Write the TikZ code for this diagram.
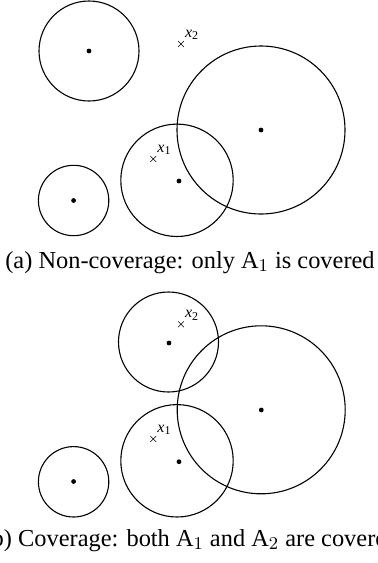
\documentclass[tikz,border=0pt]{standalone}
\usepackage{fontspec}
\setmainfont{Liberation Serif}
\usetikzlibrary{shapes.misc,positioning}

\begin{document}
\begin{tikzpicture}[
  x=0.5pt, y=-0.5pt,
  sensor/.style={circle, fill, inner sep=0pt, minimum size=2.4pt},
  disc/.style={draw, line width=0.55pt},
  tgt/.style={cross out, draw, line width=0.3pt, inner sep=0pt, minimum size=2.6pt},
  tlabel/.style={anchor=south west, inner sep=0.4pt, font=\footnotesize},
  capt/.style={anchor=base, inner sep=0pt, font=\fontsize{12.2}{14}\selectfont}
]
\useasboundingbox (0,0) rectangle (378,563);

% (a) non-coverage
\node[sensor] (a1) at (89,51) {};
\node[sensor] (a2) at (261,130) {};
\node[sensor] (a3) at (179,181) {};
\node[sensor] (a4) at (73.6,200.5) {};
\draw[disc] (89,51) circle[radius=25pt];
\draw[disc] (261,130) circle[radius=42pt];
\draw[disc] (177,180.3) circle[radius=28.1pt];
\draw[disc] (73.6,200.5) circle[radius=17.6pt];
\node[tgt] (ax2) at (181,44) {};
\node[tlabel] (ax2l) at (ax2.north east) {\textit{x}\textsubscript{2}};
\node[tgt] (ax1) at (153.3,159) {};
\node[tlabel] (ax1l) at (ax1.north east) {\textit{x}\textsubscript{1}};
\node[capt] (capa) at (190,268) {(a) Non-coverage: only $\mathrm{A}_1$ is covered};

% (b) coverage
\node[sensor] (b1) at (169,343) {};
\node[sensor] (b2) at (261.3,410) {};
\node[sensor] (b3) at (179,461.7) {};
\node[sensor] (b4) at (73.6,481.5) {};
\draw[disc] (168.5,342) circle[radius=25pt];
\draw[disc] (261.2,409.8) circle[radius=42pt];
\draw[disc] (177,460.8) circle[radius=28.1pt];
\draw[disc] (73.6,481.8) circle[radius=17.6pt];
\node[tgt] (bx2) at (181,324.3) {};
\node[tlabel] (bx2l) at (bx2.north east) {\textit{x}\textsubscript{2}};
\node[tgt] (bx1) at (153.3,439) {};
\node[tlabel] (bx1l) at (bx1.north east) {\textit{x}\textsubscript{1}};
\node[capt] (capb) at (191,546) {(b) Coverage: both $\mathrm{A}_1$ and $\mathrm{A}_2$ are covered};
\end{tikzpicture}
\end{document}
